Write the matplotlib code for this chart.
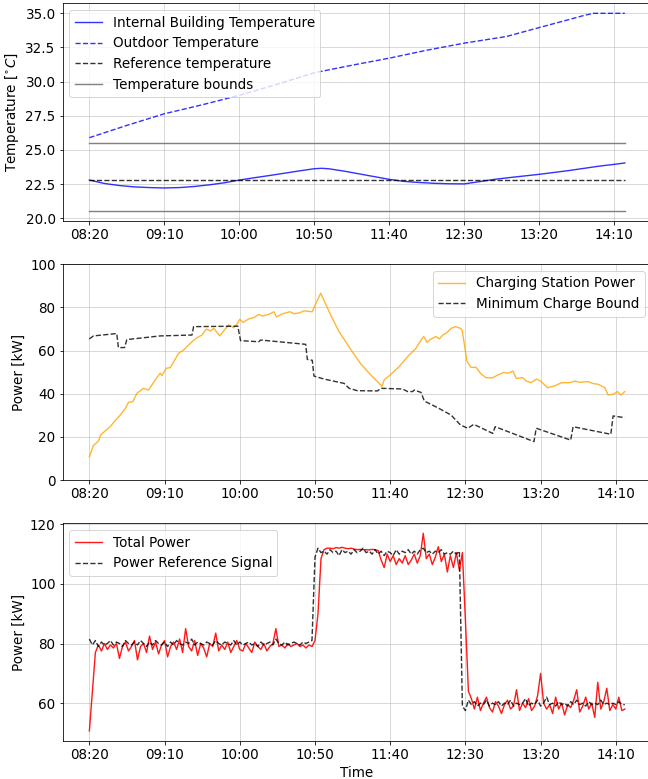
import numpy as np
import matplotlib
matplotlib.use("Agg")
import matplotlib.pyplot as plt

plt.rcParams["font.size"] = 13.5
plt.rcParams["lines.linewidth"] = 1.4

# x axis: minutes after 08:20
tick_pos = [0, 50, 100, 150, 200, 250, 300, 350]
tick_labels = ["08:20", "09:10", "10:00", "10:50", "11:40", "12:30", "13:20", "14:10"]
t_end = 357

# --- temperatures ---
t_indoor = [0, 10, 20, 30, 40, 50, 60, 70, 80, 90, 100, 110, 120, 130, 140, 150, 155, 160,
            170, 180, 190, 200, 210, 220, 230, 240, 250, 260, 270, 280, 290, 300, 310, 320,
            330, 340, 350, 357]
indoor_temp = [22.8, 22.55, 22.4, 22.3, 22.25, 22.22, 22.25, 22.33, 22.45, 22.6, 22.8, 22.97,
               23.13, 23.3, 23.47, 23.63, 23.66, 23.62, 23.45, 23.25, 23.05, 22.85, 22.7, 22.62,
               22.56, 22.53, 22.52, 22.68, 22.85, 22.98, 23.1, 23.22, 23.36, 23.5, 23.66, 23.82,
               23.95, 24.05]
t_outdoor = [0, 25, 50, 75, 100, 125, 150, 175, 200, 225, 250, 278, 300, 320, 330, 336, 357]
outdoor_temp = [25.9, 26.8, 27.65, 28.3, 29.0, 29.8, 30.65, 31.2, 31.72, 32.3, 32.82, 33.3,
                33.96, 34.55, 34.85, 35.0, 35.0]
ref_temp = 22.8
temp_bounds = [20.5, 25.5]
temp_ticks = [20.0, 22.5, 25.0, 27.5, 30.0, 32.5, 35.0]

# --- charging station ---
t_charge = [0, 2.7, 6, 7.6, 13.8, 17.1, 20.4, 23.8, 26, 28.9, 31.6, 36, 39.3, 43.8, 47.1, 48.2,
            51.1, 53.8, 59.3, 62.7, 66, 68.9, 71.6, 74.9, 77.8, 80.4, 82.7, 86.7, 89.8, 92.7,
            96, 98.2, 100, 102.2, 106, 109.3, 112.7, 114.9, 119.3, 122.7, 124.4, 128.2, 133.3,
            136, 139.3, 142.7, 148.2, 149.3, 153.8, 160.4, 166, 173.8, 180.5, 187.1, 193.8,
            194.5, 196, 200.5, 206, 211.6, 214.9, 217.1, 220.5, 222.3, 224.5, 227.1, 230.5,
            232.7, 234.9, 237.1, 240.5, 243.4, 246.7, 247.8, 251.1, 253.8, 257.1, 260.5, 263.8,
            268.2, 271.6, 275.6, 278.2, 281.6, 283.8, 288.2, 290.5, 293.8, 297.1, 300, 304.5,
            309.4, 313.8, 319.4, 322.7, 326, 331.6, 334.9, 338.2, 342.7, 344.9, 348.2, 351.1,
            353.4, 356]
charge_power = [10.8, 16, 18, 21, 24.7, 27.5, 30, 33, 36, 36.3, 40.2, 42.5, 41.7, 46.4, 49.5,
                48.4, 51.8, 52.1, 58.7, 60.3, 62.6, 64.5, 66, 67.2, 70, 69.1, 70.3, 66.8, 69.6,
                71.9, 70.6, 72.3, 74.5, 73.1, 74.7, 75.3, 76.8, 76, 76.8, 78, 75.6, 77, 78, 77.1,
                77.4, 78.4, 78, 79.9, 86.6, 76.5, 68.8, 60.5, 53.8, 48.7, 44, 43.3, 46.4, 49,
                52.6, 57.2, 59.5, 61, 64.9, 66.5, 63.8, 65.4, 66.5, 65.4, 67.2, 68, 70.3, 71.1,
                70.3, 69.6, 54.9, 52.2, 52.2, 49.1, 47.4, 47.4, 48.7, 49.9, 49.5, 50.5, 47.1,
                47.4, 45.9, 45.1, 46.8, 45.9, 42.8, 43.6, 45.1, 45.1, 45.9, 45.3, 45.6, 44.7,
                44.4, 42.8, 39.4, 39.7, 41, 39.4, 41]
t_bound = [0, 2.7, 18.2, 19.3, 23.4, 24.9, 47.1, 68.2, 69.3, 98.7, 100.5, 112.7, 113.8, 143.8,
           144.9, 148.2, 149.3, 156, 169.3, 172.7, 178.2, 191.6, 193.8, 208.2, 211.6, 214.9,
           216, 220.5, 222.7, 231.6, 240.5, 246.7, 251.6, 255.6, 268.2, 269.8, 295.6, 297.1,
           320, 321.6, 346.7, 348.2, 356]
min_charge = [65.4, 66.8, 67.9, 61.4, 61.4, 65.1, 66.8, 67.2, 71.1, 71.3, 64.6, 64.1, 64.9,
              62.9, 55.9, 55.5, 48.2, 46.8, 44.8, 42.5, 41.4, 41.3, 42.5, 42.2, 41, 41, 41.7,
              40.6, 36.6, 33.5, 30.1, 25.5, 24, 25.8, 21.6, 24.7, 17.8, 24, 18.5, 24.7, 21.2,
              29.7, 28.9]

# --- total power, sampled every 2 minutes ---
total_power = [
    50.7, 64, 77, 79.5, 77.5, 80, 78, 79.5, 78.5, 80,
    75, 79, 80.5, 77.5, 79, 81, 74.5, 79, 80, 77,
    82.5, 78, 80.5, 76.5, 79.5, 81, 75.5, 79, 80.5, 78,
    81.5, 77, 85, 79, 77.5, 81, 76, 80, 78.5, 75.5,
    80, 79, 83.5, 77.5, 79.5, 78, 80.5, 77, 79, 81,
    78, 77.5, 80, 78.5, 77, 80.5, 79, 78, 80, 77.5,
    79, 80, 85, 79, 79.5, 78.5, 80, 79, 79.5, 80,
    79, 79.5, 78.5, 79.5, 79, 81, 90, 108.5, 111.5, 112,
    112, 111.8, 112.2, 112, 112.3, 112, 111.8, 112, 111.7, 111.5,
    111.6, 111.5, 111.5, 111.4, 111.6, 111.5, 111.2, 108, 105.5, 110,
    107.5, 109.5, 106.5, 108.5, 107, 109.5, 106.5, 108, 110, 107,
    109.5, 117, 108.5, 110, 106.5, 109, 112.5, 107.5, 110, 104,
    109.5, 105.5, 110.5, 104.5, 110.5, 88, 64, 61.5, 58, 62,
    57.5, 60, 62, 58.5, 57, 60.5, 59, 56.5, 59.5, 61,
    58, 59, 64.5, 57.5, 60, 58.5, 61.5, 57.5, 59, 62.5,
    70, 60, 58, 59.5, 56.5, 62, 58, 60, 56, 59.5,
    58.5, 61, 64.5, 57, 59, 62, 58, 60, 55.2, 67,
    58, 60.5, 65, 57.5, 59.5, 58, 62, 57.5, 58]
power_ref = [
    81.5, 79.5, 81, 79, 80.5, 79.5, 80, 81, 79.5, 80.5,
    80, 79, 81, 80, 79.5, 80.5, 79.5, 81, 80, 79,
    80.5, 79.5, 81, 80, 79.5, 80.5, 79, 80.5, 79.5, 81,
    80, 79.5, 80.5, 80, 81.5, 79.5, 80.5, 80, 79.5, 80.5,
    80, 79.5, 81, 80, 79.5, 80.5, 80, 79.5, 81, 79.5,
    80.5, 79.5, 80, 80.5, 79.5, 80, 79, 80.5, 79.5, 80,
    80.5, 79.5, 81.5, 80, 79.5, 80.5, 79.5, 80, 80.5, 80,
    79.5, 80.5, 80, 80.5, 81, 109, 112, 110.5, 111, 110,
    111.5, 110.5, 111, 109.5, 111.5, 110.5, 111, 110, 111.5, 110.5,
    111, 112, 110.5, 111, 110, 111.5, 110, 111, 109.5, 111,
    110.5, 109.5, 111.5, 110, 111, 110.5, 111.5, 110, 111, 110,
    111.5, 112, 110.5, 111, 110, 111, 110.5, 111.5, 110, 110.5,
    110, 111, 110, 111, 59, 57.5, 61, 59.5, 60.5, 59,
    60, 59.5, 61, 59, 60, 59.5, 60.5, 59, 60, 59.5,
    61, 59, 60, 59.5, 60, 61.5, 59, 60, 59.5, 61,
    59, 60, 62, 59.5, 60, 59, 60.5, 59.5, 60, 59,
    60.5, 59.5, 61, 59.5, 60, 59, 60.5, 59.5, 60, 59.5,
    61, 59.5, 60, 59.5, 60, 59.5, 60.5, 59.5, 59.5]
t_power = 2 * np.arange(len(total_power))
t_ref = 2 * np.arange(len(power_ref))

fig = plt.figure(figsize=(9, 779 / 72), dpi=72)
W, H = 648, 779
ax1 = fig.add_axes([62.6 / W, 1 - 221.4 / H, 589 / W, 218 / H])
ax2 = fig.add_axes([62.6 / W, 1 - 480 / H, 589 / W, 215.7 / H])
ax3 = fig.add_axes([62.6 / W, 1 - 740.7 / H, 589 / W, 217.3 / H])

ax1.plot(t_indoor, indoor_temp, color="blue", alpha=0.8, label="Internal Building Temperature")
ax1.plot(t_outdoor, outdoor_temp, "--", color="blue", alpha=0.8, label="Outdoor Temperature")
ax1.plot([0, t_end], [ref_temp, ref_temp], "--", color="black", alpha=0.8,
         label="Reference temperature")
ax1.plot([0, t_end], [temp_bounds[1]] * 2, color="grey", label="Temperature bounds")
ax1.plot([0, t_end], [temp_bounds[0]] * 2, color="grey")
ax1.set_yticks(temp_ticks)
ax1.set_ylabel(r"Temperature [$^{\circ}C$]")
ax1.legend(loc="upper left")

ax2.plot(t_charge, charge_power, color="orange", alpha=0.8, label="Charging Station Power")
ax2.plot(t_bound, min_charge, "--", color="black", alpha=0.8, label="Minimum Charge Bound")
ax2.set_ylim(0, 100)
ax2.set_ylabel("Power [kW]")
ax2.legend(loc="upper right")

ax3.plot(t_power, total_power, color="red", alpha=0.9, label="Total Power")
ax3.plot(t_ref, power_ref, "--", color="black", alpha=0.8, label="Power Reference Signal")
ax3.set_yticks([60, 80, 100, 120])
ax3.set_ylabel("Power [kW]")
ax3.set_xlabel("Time")
ax3.legend(loc="upper left")

for ax in (ax1, ax2, ax3):
    ax.set_xticks(tick_pos)
    ax.set_xticklabels(tick_labels)
    ax.grid(True, alpha=0.6)

fig.savefig("out.png", dpi=72)
